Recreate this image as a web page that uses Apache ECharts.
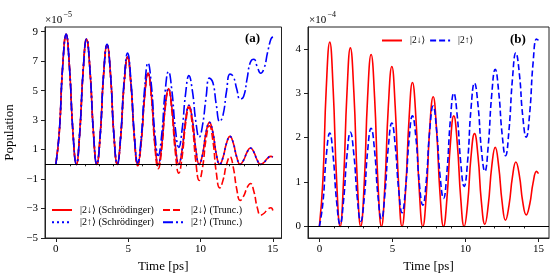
<!DOCTYPE html>
<html><head><meta charset="utf-8">
<script src="https://cdn.jsdelivr.net/npm/echarts@6/dist/echarts.min.js"></script>
<style>html,body{margin:0;padding:0;background:#fff}#c{width:560px;height:280px}</style>
</head><body><div id="c"></div>
<script>
// ---- data (time in ps; panel a values in 1e-5, panel b values in 1e-4) ----
const timesPs = [0,0.24,0.47,0.71,0.94,1.18,1.42,1.65,1.89,2.12,
  2.36,2.60,2.83,3.07,3.30,3.54,3.78,4.01,4.25,4.48,
  4.72,4.96,5.19,5.43,5.66,5.90,6.14,6.37,6.61,6.84,
  7.08,7.32,7.55,7.79,8.02,8.26,8.50,8.73,8.97,9.20,
  9.44,9.68,9.91,10.15,10.38,10.62,10.86,11.09,11.33,11.56,
  11.80,12.04,12.27,12.51,12.74,12.98,13.22,13.45,13.69,13.92,
  14.16,14.40,14.63,14.87,15.00];

// (a) Schrödinger: |2↓⟩ and |2↑⟩ coincide
const aDownSchr = [0,2.21,6.62,8.82,6.62,2.21,0,2.13,6.38,8.50,
  6.38,2.13,0,2.03,6.08,8.10,6.08,2.03,0,1.83,
  5.48,7.30,5.48,1.83,0,1.55,4.65,6.20,4.65,1.55,
  0,1.29,3.86,5.15,3.86,1.29,0,1.00,3.01,4.01,
  3.01,1.00,0,0.71,2.14,2.85,2.14,0.71,0,0.48,
  1.43,1.90,1.43,0.48,0,0.28,0.83,1.11,0.83,0.28,
  0,0.14,0.41,0.54,0.50];
const aUpSchr = aDownSchr;

const aDownTrunc = [0,2.21,6.62,8.82,6.62,2.21,0,2.13,6.38,8.50,
  6.38,2.13,0,2.03,6.08,8.10,6.08,2.03,0,1.81,
  5.44,7.25,5.41,1.74,-0.10,1.46,4.59,6.15,4.54,1.31,
  -0.30,1.04,3.71,5.05,3.64,0.81,-0.60,0.51,2.74,3.85,
  2.62,0.15,-1.09,-0.16,1.69,2.62,1.57,-0.54,-1.60,-1.07,
  -0.01,0.52,-0.22,-1.71,-2.45,-2.16,-1.59,-1.30,-1.84,-2.91,
  -3.45,-3.32,-3.07,-2.95,-3.13];

const aUpTrunc = [0,2.21,6.62,8.82,6.62,2.21,0,2.13,6.39,8.52,
  6.39,2.13,0,2.04,6.11,8.15,6.12,2.05,0.02,1.90,
  5.67,7.55,5.69,1.98,0.12,1.81,5.19,6.88,5.31,2.17,
  0.60,2.03,4.88,6.30,5.01,2.44,1.15,2.37,4.80,6.02,
  4.98,2.89,1.85,2.71,4.50,5.85,5.54,4.06,2.90,3.36,
  4.96,6.12,5.95,5.09,4.42,4.61,5.80,6.93,7.13,6.63,
  6.18,6.53,7.56,8.50,8.66];

const bDown = [0,1.04,3.11,4.15,3.11,1.04,0,1.00,3.02,4.02,
  3.02,1.00,0,0.97,2.90,3.87,2.90,0.97,0,0.90,
  2.70,3.60,2.70,0.90,0,0.81,2.43,3.24,2.43,0.81,
  0,0.73,2.19,2.92,2.19,0.73,0,0.62,1.87,2.49,
  1.87,0.62,0,0.52,1.57,2.09,1.58,0.56,0.05,0.48,
  1.35,1.78,1.37,0.55,0.14,0.47,1.12,1.45,1.15,0.56,
  0.26,0.50,0.98,1.24,1.19];

const bUp = [0,0.53,1.58,2.10,1.59,0.56,0.05,0.57,1.60,2.12,
  1.62,0.62,0.12,0.64,1.69,2.21,1.70,0.68,0.17,0.71,
  1.79,2.33,1.83,0.82,0.31,0.86,1.95,2.49,1.99,0.98,
  0.48,1.04,2.15,2.71,2.19,1.15,0.63,1.22,2.41,3.00,
  2.48,1.43,0.90,1.48,2.65,3.23,2.73,1.74,1.24,1.82,
  2.97,3.54,3.05,2.08,1.59,2.17,3.33,3.91,3.44,2.49,
  2.01,2.56,3.68,4.22,4.19];

const xMajorTicks = [0,5,10,15];
const xMinorTicks = [1,2,3,4,6,7,8,9,11,12,13,14];
const aYTicks = [-5,-3,-1,1,3,5,7,9];
const bYTicks = [0,1,2,3,4];

const names = {
  aDS: '|2\u2193\u27E9 (Schrödinger)', aUS: '|2\u2191\u27E9 (Schrödinger)',
  aDT: '|2\u2193\u27E9 (Trunc.)', aUT: '|2\u2191\u27E9 (Trunc.)',
  bD: '|2\u2193\u27E9', bU: '|2\u2191\u27E9'
};

// ---- chart ----
const F = '"Liberation Serif", "DejaVu Serif", serif';
const RED = '#ff0000', BLUE = '#0000ff', LW = 1.6, FRAME = '#222';
function pairs(arr){ return timesPs.map((t,i)=>[t, arr[i]]); }
function fmt(v){ return v < 0 ? '\u2212' + Math.abs(v) : String(v); }

const gridsPos = [
  {left:45, top:27, width:236.5, height:211},
  {left:308, top:27, width:241, height:211}
];
const xRanges = [[-0.75,15.6],[-0.78,15.72]];

function xMain(i){
  return {gridIndex:i, type:'value', min:xRanges[i][0], max:xRanges[i][1],
    axisLine:{show:true, onZero:false, lineStyle:{color:FRAME, width:1}},
    splitLine:{show:false},
    axisTick:{show:true, customValues:xMajorTicks, length:4, lineStyle:{color:FRAME, width:1}},
    axisLabel:{customValues:xMajorTicks, color:'#000', fontFamily:F, fontSize:11, margin:6, formatter:fmt},
    name:'Time [ps]', nameLocation:'middle', nameGap:19,
    nameTextStyle:{fontFamily:F, fontSize:13, color:'#000'}};
}
function xMinor(i){
  return {gridIndex:i, type:'value', min:xRanges[i][0], max:xRanges[i][1], position:'bottom',
    axisLine:{show:false}, splitLine:{show:false}, axisLabel:{show:false},
    axisTick:{show:true, customValues:xMinorTicks, length:2, lineStyle:{color:FRAME, width:1}}};
}
function zeroLine(){
  return {silent:true, symbol:['none','none'], label:{show:false}, animation:false,
    lineStyle:{color:'#000', width:1, type:'solid'}, data:[{yAxis:0}]};
}
function line(name, xi, yi, arr, color, dash, extra){
  const s = {type:'line', name:name, xAxisIndex:xi, yAxisIndex:yi, data:pairs(arr),
    smooth:0.5, symbol:'none', showSymbol:false, clip:true,
    lineStyle:{color:color, width:LW, type:dash, cap:'butt'}, itemStyle:{color:color}};
  return Object.assign(s, extra || {});
}
function legendBase(fs){
  return {orient:'vertical', itemWidth:20, itemHeight:10, padding:0, selectedMode:false,
    itemStyle:{opacity:0, borderWidth:0},
    textStyle:{fontFamily:F, fontSize:fs, color:'#000', padding:[0,0,0,3]}};
}

const option = {
  animation:false,
  backgroundColor:'#fff',
  grid: gridsPos.map(g => Object.assign({show:true, borderColor:FRAME, borderWidth:1, backgroundColor:'transparent'}, g)),
  xAxis:[xMain(0), xMain(1), xMinor(0), xMinor(1)],
  yAxis:[
    {gridIndex:0, type:'value', min:-5, max:9.32,
      axisLine:{show:true, onZero:false, lineStyle:{color:FRAME, width:1}}, splitLine:{show:false},
      axisTick:{show:true, customValues:aYTicks, length:4, lineStyle:{color:FRAME, width:1}},
      axisLabel:{customValues:aYTicks, color:'#000', fontFamily:F, fontSize:11, margin:7, formatter:fmt},
      name:'Population', nameLocation:'middle', nameGap:29,
      nameTextStyle:{fontFamily:F, fontSize:13, color:'#000'}},
    {gridIndex:1, type:'value', min:-0.26, max:4.49,
      axisLine:{show:true, onZero:false, lineStyle:{color:FRAME, width:1}}, splitLine:{show:false},
      axisTick:{show:true, customValues:bYTicks, length:4, lineStyle:{color:FRAME, width:1}},
      axisLabel:{customValues:bYTicks, color:'#000', fontFamily:F, fontSize:11, margin:7, formatter:fmt}}
  ],
  legend:[
    Object.assign(legendBase(10), {data:[names.aDS, names.aUS], left:51, top:205, itemGap:2.3}),
    Object.assign(legendBase(10), {data:[names.aDT, names.aUT], left:162, top:205, itemGap:2.3}),
    Object.assign(legendBase(9.5), {data:[names.bD, names.bU], orient:'horizontal', left:381, top:35.5, itemGap:4})
  ],
  series:[
    line(names.aDS, 0, 0, aDownSchr, RED, 'solid', {markLine:zeroLine()}),
    line(names.aUS, 0, 0, aUpSchr, BLUE, [2,3]),
    line(names.aDT, 0, 0, aDownTrunc, RED, [7,3]),
    line(names.aUT, 0, 0, aUpTrunc, BLUE, [10,3,2,3]),
    line(names.bD, 1, 1, bDown, RED, 'solid', {markLine:zeroLine()}),
    line(names.bU, 1, 1, bUp, BLUE, [6,3])
  ],
  graphic:[
    {type:'text', left:45, top:15, style:{text:'\u00D710', font:'11px ' + F, fill:'#000'}},
    {type:'text', left:63.5, top:11, style:{text:'\u22125', font:'8px ' + F, fill:'#000'}},
    {type:'text', left:309, top:15, style:{text:'\u00D710', font:'11px ' + F, fill:'#000'}},
    {type:'text', left:327.5, top:11, style:{text:'\u22124', font:'8px ' + F, fill:'#000'}},
    {type:'text', left:245, top:32, style:{text:'(a)', font:'bold 13px ' + F, fill:'#000'}},
    {type:'text', left:510, top:33, style:{text:'(b)', font:'bold 13px ' + F, fill:'#000'}}
  ]
};
const chart = echarts.init(document.getElementById('c'), null, {renderer:'canvas'});
chart.setOption(option);
</script>
</body></html>
